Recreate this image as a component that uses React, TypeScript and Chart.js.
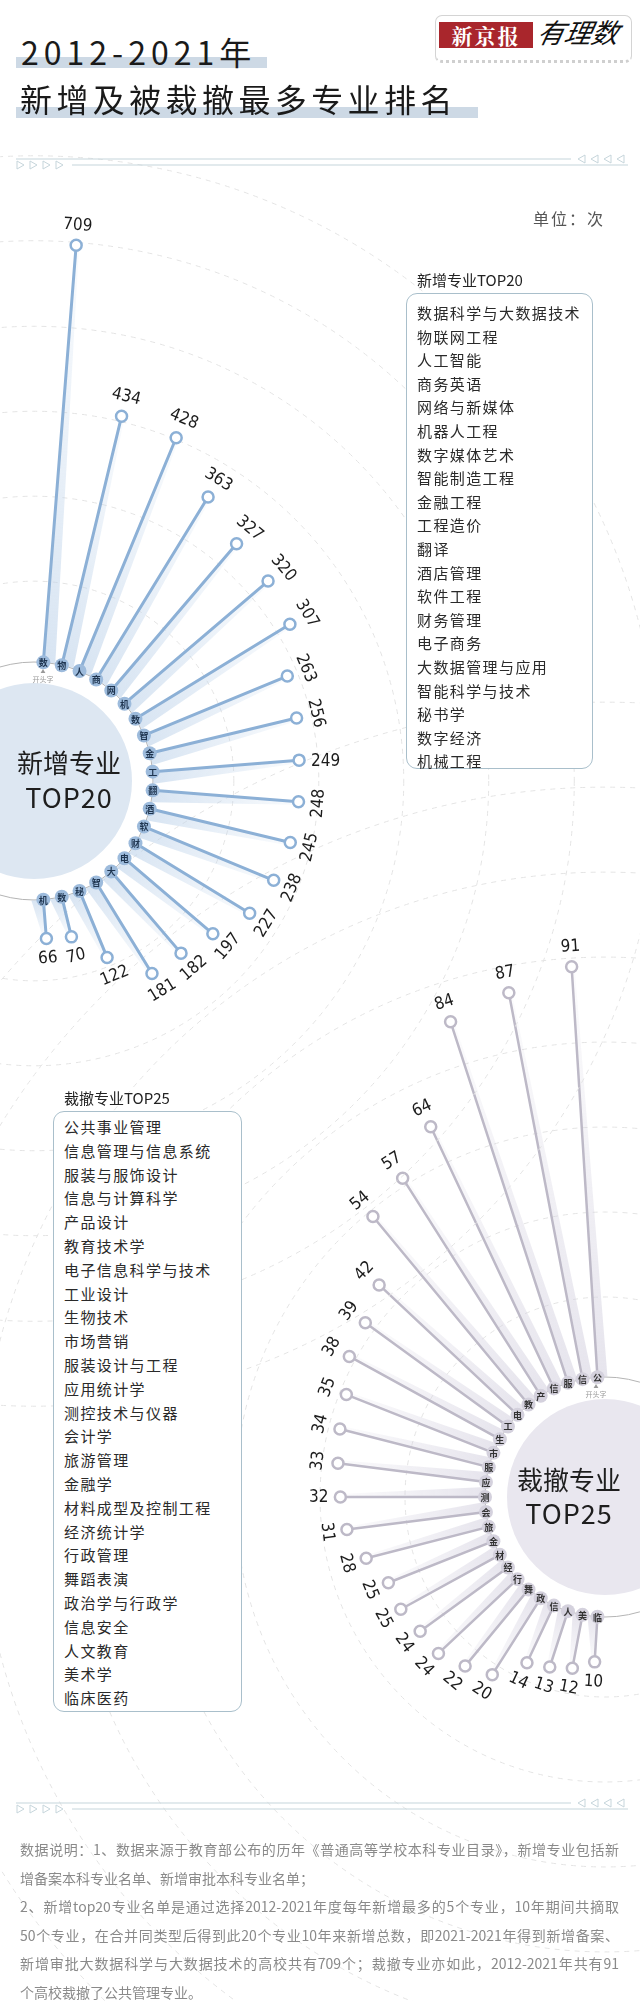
import React, { useEffect, useRef } from 'react';
import { Chart, registerables } from 'chart.js';

Chart.register(...registerables);

// ---------------- data ----------------
const ADDED_MAJORS = ['数据科学与大数据技术', '物联网工程', '人工智能', '商务英语', '网络与新媒体', '机器人工程', '数字媒体艺术', '智能制造工程', '金融工程', '工程造价', '翻译', '酒店管理', '软件工程', '财务管理', '电子商务', '大数据管理与应用', '智能科学与技术', '秘书学', '数字经济', '机械工程'];
const ADDED_COUNTS = [709, 434, 428, 363, 327, 320, 307, 263, 256, 249, 248, 245, 238, 227, 197, 182, 181, 122, 70, 66];

const CUT_MAJORS = ['公共事业管理', '信息管理与信息系统', '服装与服饰设计', '信息与计算科学', '产品设计', '教育技术学', '电子信息科学与技术', '工业设计', '生物技术', '市场营销', '服装设计与工程', '应用统计学', '测控技术与仪器', '会计学', '旅游管理', '金融学', '材料成型及控制工程', '经济统计学', '行政管理', '舞蹈表演', '政治学与行政学', '信息安全', '人文教育', '美术学', '临床医药'];
const CUT_COUNTS = [91, 87, 84, 64, 57, 54, 42, 39, 38, 35, 34, 33, 32, 31, 28, 25, 25, 24, 24, 22, 20, 14, 13, 12, 10];

const ADDED_GRID_TICKS = [137, 281, 425, 569, 714, 858];
const CUT_GRID_TICKS = [17.7, 36.5, 55.3, 74.1, 92.9, 111.7, 130.5, 149.3];

const TITLE_LINE_1 = '2012-2021年';
const TITLE_LINE_2 = '新增及被裁撤最多专业排名';
const UNIT_TEXT = '单位：次';
const ADDED_LIST_TITLE = '新增专业TOP20';
const CUT_LIST_TITLE = '裁撤专业TOP25';
const FOOTNOTE_LINES = [
  '数据说明：1、数据来源于教育部公布的历年《普通高等学校本科专业目录》，新增专业包括新',
  '增备案本科专业名单、新增审批本科专业名单；',
  '2、新增top20专业名单是通过选择2012-2021年度每年新增最多的5个专业，10年期间共摘取',
  '50个专业，在合并同类型后得到此20个专业10年来新增总数，即2021-2021年得到新增备案、',
  '新增审批大数据科学与大数据技术的高校共有709个；裁撤专业亦如此，2012-2021年共有91',
  '个高校裁撤了公共管理专业。',
];
const FOOTNOTE_FULL = [true, false, true, true, true, false];

// ---------------- chart building ----------------
const CJK = '"Noto Sans CJK SC", "Noto Sans", sans-serif';
const VALUE_FONT = '17px "Liberation Sans Narrow", "DejaVu Sans Condensed", Roboto, sans-serif';

interface RadialSpec {
  majors: string[];
  counts: number[];
  slots: number;
  startAngle: number;
  clockwise: boolean;
  baseRadius: number;
  pxPerUnit: number;
  drawRadius: number;
  gridTicks: number[];
  spoke: string;
  spokeWidth: number;
  bandStrong: string;
  bandWeak: string;
  bandWidth: number;
  chipFill: string;
  chipText: string;
  core: string;
  coreRadius: number;
}

function buildChart(canvas: HTMLCanvasElement, spec: RadialSpec) {
  const slotOf = (j: number) => (spec.clockwise ? j : (spec.slots - j) % spec.slots);
  const data: (number | null)[] = new Array(spec.slots).fill(null);
  const labels: string[] = new Array(spec.slots).fill('');
  spec.counts.forEach((v, j) => {
    data[slotOf(j)] = v;
    labels[slotOf(j)] = spec.majors[j];
  });
  const min = -spec.baseRadius / spec.pxPerUnit;
  const max = min + spec.drawRadius / spec.pxPerUnit;

  const plugin = {
    id: 'radialLollipop',
    beforeDatasetsDraw(chart: any) {
      const s = chart.scales.r;
      const ctx: CanvasRenderingContext2D = chart.ctx;
      const base = s.getDistanceFromCenterForValue(0);
      ctx.save();
      ctx.fillStyle = spec.core;
      ctx.beginPath();
      ctx.arc(s.xCenter, s.yCenter, spec.coreRadius, 0, Math.PI * 2);
      ctx.fill();
      ctx.strokeStyle = '#b4b4b4';
      ctx.lineWidth = 1;
      ctx.beginPath();
      ctx.arc(s.xCenter, s.yCenter, base, 0, Math.PI * 2);
      ctx.stroke();
      // soft bands
      spec.counts.forEach((v, j) => {
        const i = slotOf(j);
        const p0 = s.getPointPositionForValue(i, 0);
        const p1 = s.getPointPositionForValue(i, v);
        const nx = -Math.sin(p0.angle);
        const ny = Math.cos(p0.angle);
        const g = ctx.createLinearGradient(p0.x, p0.y, p1.x, p1.y);
        g.addColorStop(0, spec.bandStrong);
        g.addColorStop(1, spec.bandWeak);
        ctx.fillStyle = g;
        ctx.beginPath();
        ctx.moveTo(p0.x, p0.y);
        ctx.lineTo(p0.x + nx * spec.bandWidth, p0.y + ny * spec.bandWidth);
        ctx.lineTo(p1.x + nx * 3, p1.y + ny * 3);
        ctx.lineTo(p1.x, p1.y);
        ctx.closePath();
        ctx.fill();
      });
      // spokes
      ctx.strokeStyle = spec.spoke;
      ctx.lineWidth = spec.spokeWidth;
      ctx.lineCap = 'round';
      spec.counts.forEach((v, j) => {
        const i = slotOf(j);
        const p0 = s.getPointPositionForValue(i, 0);
        const p1 = s.getPointPositionForValue(i, v);
        ctx.beginPath();
        ctx.moveTo(p0.x, p0.y);
        ctx.lineTo(p1.x, p1.y);
        ctx.stroke();
      });
      // initial-character chips
      ctx.font = 'bold 9px ' + CJK;
      ctx.textAlign = 'center';
      ctx.textBaseline = 'middle';
      spec.counts.forEach((_v, j) => {
        const p0 = s.getPointPositionForValue(slotOf(j), 0);
        ctx.fillStyle = spec.chipFill;
        ctx.beginPath();
        ctx.arc(p0.x, p0.y, 7, 0, Math.PI * 2);
        ctx.fill();
        ctx.fillStyle = spec.chipText;
        ctx.fillText(spec.majors[j].charAt(0), p0.x, p0.y + 0.5);
      });
      ctx.restore();
    },
    afterDatasetsDraw(chart: any) {
      const s = chart.scales.r;
      const ctx: CanvasRenderingContext2D = chart.ctx;
      ctx.save();
      ctx.fillStyle = '#1c1c1c';
      ctx.font = VALUE_FONT;
      ctx.textBaseline = 'middle';
      spec.counts.forEach((v, j) => {
        const p = s.getPointPositionForValue(slotOf(j), v);
        const c = Math.cos(p.angle);
        const sn = Math.sin(p.angle);
        if (sn > -0.1 && sn < 0.001) {
          ctx.textAlign = c > 0 ? 'left' : 'right';
          ctx.fillText(String(v), p.x + c * 12, p.y + 1);
          return;
        }
        let rot = p.angle + Math.PI / 2;
        rot = Math.atan2(Math.sin(rot), Math.cos(rot));
        if (rot > Math.PI / 2) rot -= Math.PI;
        else if (rot < -Math.PI / 2) rot += Math.PI;
        ctx.save();
        ctx.translate(p.x + c * 20, p.y + sn * 20);
        ctx.rotate(rot);
        ctx.textAlign = 'center';
        ctx.fillText(String(v), 0, 0);
        ctx.restore();
      });
      ctx.restore();
    },
  };

  return new Chart(canvas, {
    type: 'radar',
    data: {
      labels,
      datasets: [
        {
          data,
          showLine: false,
          fill: false,
          borderWidth: 0,
          pointRadius: 5.5,
          pointHoverRadius: 5.5,
          pointBorderWidth: 2.5,
          pointBackgroundColor: '#ffffff',
          pointBorderColor: spec.spoke,
        } as any,
      ],
    },
    options: {
      responsive: false,
      animation: false,
      devicePixelRatio: 1,
      events: [],
      layout: { padding: 0 },
      plugins: { legend: { display: false }, tooltip: { enabled: false } },
      scales: {
        r: {
          min,
          max,
          startAngle: spec.startAngle,
          afterBuildTicks: (scale: any) => {
            scale.ticks = spec.gridTicks.map((value) => ({ value }));
          },
          ticks: { display: false },
          pointLabels: { display: false },
          angleLines: { display: false },
          grid: { circular: true, color: '#e4e4e4', lineWidth: 1 },
          border: { dash: [5, 5] },
        } as any,
      },
    },
    plugins: [plugin as any],
  });
}

const ADDED_SPEC: RadialSpec = {
  majors: ADDED_MAJORS,
  counts: ADDED_COUNTS,
  slots: 40,
  startAngle: 4.5,
  clockwise: true,
  baseRadius: 119,
  pxPerUnit: 0.59,
  drawRadius: 700,
  gridTicks: ADDED_GRID_TICKS,
  spoke: '#8cb0d6',
  spokeWidth: 3,
  bandStrong: 'rgba(190,211,234,0.6)',
  bandWeak: 'rgba(190,211,234,0.08)',
  bandWidth: 12,
  chipFill: '#9dbbdc',
  chipText: '#1f3550',
  core: '#dde7f2',
  coreRadius: 98,
};

const CUT_SPEC: RadialSpec = {
  majors: CUT_MAJORS,
  counts: CUT_COUNTS,
  slots: 50,
  startAngle: 356.4,
  clockwise: false,
  baseRadius: 120,
  pxPerUnit: 4.52,
  drawRadius: 800,
  gridTicks: CUT_GRID_TICKS,
  spoke: '#bdb9c7',
  spokeWidth: 2.5,
  bandStrong: 'rgba(214,211,225,0.6)',
  bandWeak: 'rgba(214,211,225,0.08)',
  bandWidth: 10,
  chipFill: '#d4d1dd',
  chipText: '#333333',
  core: '#e9e7ef',
  coreRadius: 98,
};

function RadialChart({ spec, left, top, size, z }: { spec: RadialSpec; left: number; top: number; size: number; z: number }) {
  const ref = useRef<HTMLCanvasElement>(null);
  useEffect(() => {
    const chart = buildChart(ref.current as HTMLCanvasElement, spec);
    return () => chart.destroy();
  }, [spec]);
  return (
    <canvas
      ref={ref}
      width={size}
      height={size}
      style={{ position: 'absolute', left, top, width: size, height: size, zIndex: z }}
    />
  );
}

// ---------------- decorations ----------------
function Divider({ y }: { y: number }) {
  const col = '#c6d5db';
  const tri = (x: number, yy: number, dir: number, k: number) => {
    const pts = dir < 0
      ? `${x + 7},${yy - 4} ${x},${yy} ${x + 7},${yy + 4}`
      : `${x},${yy - 4} ${x + 7},${yy} ${x},${yy + 4}`;
    return <polygon key={`${dir}-${k}`} points={pts} fill="none" stroke={col} strokeWidth={1} />;
  };
  return (
    <svg width={640} height={20} style={{ position: 'absolute', left: 0, top: y - 8, zIndex: 5 }}>
      <line x1={16} y1={8} x2={571} y2={8} stroke={col} strokeWidth={1.2} />
      {[0, 1, 2, 3].map((k) => tri(578 + k * 13, 8, -1, k))}
      <line x1={72} y1={14} x2={628} y2={14} stroke={col} strokeWidth={1.2} />
      {[0, 1, 2, 3].map((k) => tri(17 + k * 13, 14, 1, k))}
    </svg>
  );
}

const abs = (s: React.CSSProperties): React.CSSProperties => ({ position: 'absolute', whiteSpace: 'nowrap', ...s });

function MajorList({ title, items, left, top, width, height, titleTop, padTop, pitch }: {
  title: string; items: string[]; left: number; top: number; width: number; height: number; titleTop: number; padTop: number; pitch: number;
}) {
  return (
    <>
      <div style={abs({ left: left + 11, top: titleTop, fontSize: 15, lineHeight: '20px', color: '#222', fontFamily: CJK, zIndex: 6 })}>{title}</div>
      <div
        style={abs({
          left, top, width, height, boxSizing: 'border-box', border: '1.3px solid #a9bfcb', borderRadius: 11,
          background: '#fff', zIndex: 6, paddingTop: padTop, paddingLeft: 10,
        })}
      >
        {items.map((t, k) => (
          <div key={k} style={{ fontSize: 15, lineHeight: `${pitch}px`, height: pitch, color: '#2a2a2a', fontFamily: CJK, letterSpacing: 1.4 }}>
            {t}
          </div>
        ))}
      </div>
    </>
  );
}

export default function App() {
  return (
    <div style={{ position: 'absolute', left: 0, top: 0, width: 640, height: 2001, overflow: 'hidden', background: '#fff', fontFamily: CJK }}>
      {/* title */}
      <div style={abs({ left: 16, top: 57, width: 251, height: 11, background: '#cdd9e5', zIndex: 5 })} />
      <div style={abs({ left: 16, top: 107, width: 462, height: 11, background: '#cdd9e5', zIndex: 5 })} />
      <div style={abs({ left: 21, top: 30, fontSize: 32, lineHeight: '42px', letterSpacing: 5, color: '#1a1a1a', zIndex: 6, fontWeight: 400 })}>{TITLE_LINE_1}</div>
      <div style={abs({ left: 20, top: 77, fontSize: 32, lineHeight: '42px', letterSpacing: 4.4, color: '#1a1a1a', zIndex: 6, fontWeight: 400 })}>{TITLE_LINE_2}</div>

      {/* logo */}
      <div style={abs({ left: 435, top: 15, width: 197, height: 48, boxSizing: 'border-box', border: '1.5px solid #d4d4d4', borderBottom: '3px dotted #cfcfcf', borderRadius: 7, zIndex: 6 })} />
      <div style={abs({ left: 439, top: 22, width: 94, height: 26, background: '#a9262c', color: '#fff', fontSize: 21, lineHeight: '26px', fontWeight: 700, textAlign: 'center', letterSpacing: 2, zIndex: 7, fontFamily: '"Noto Serif CJK SC", ' + CJK })}>新京报</div>
      <div style={abs({ left: 538, top: 15, fontSize: 27, lineHeight: '34px', fontStyle: 'italic', color: '#111', zIndex: 7, transform: 'skewX(-12deg)' })}>有理数</div>

      <Divider y={159} />

      <div style={abs({ left: 533, top: 208, fontSize: 16, lineHeight: '20px', color: '#555', letterSpacing: 2, zIndex: 6 })}>{UNIT_TEXT}</div>

      {/* charts */}
      <RadialChart spec={CUT_SPEC} left={605 - 800} top={1497 - 800} size={1600} z={1} />
      <RadialChart spec={ADDED_SPEC} left={34 - 700} top={781 - 700} size={1400} z={2} />

      {/* core labels */}
      <div style={abs({ left: 8, top: 746, width: 122, textAlign: 'center', fontSize: 26, lineHeight: '32px', color: '#1e1e1e', zIndex: 4 })}>新增专业</div>
      <div style={abs({ left: 8, top: 781, width: 122, textAlign: 'center', fontSize: 27, lineHeight: '32px', color: '#1e1e1e', zIndex: 4, letterSpacing: 1 })}>TOP20</div>
      <div style={abs({ left: 508, top: 1463, width: 122, textAlign: 'center', fontSize: 26, lineHeight: '32px', color: '#1e1e1e', zIndex: 4 })}>裁撤专业</div>
      <div style={abs({ left: 508, top: 1497, width: 122, textAlign: 'center', fontSize: 27, lineHeight: '32px', color: '#1e1e1e', zIndex: 4, letterSpacing: 1 })}>TOP25</div>

      {/* start markers */}
      <div style={abs({ left: 28, top: 668, width: 30, textAlign: 'center', fontSize: 5, lineHeight: '6px', color: '#999', zIndex: 4 })}>▲</div>
      <div style={abs({ left: 25, top: 674, width: 36, textAlign: 'center', fontSize: 7, lineHeight: '10px', color: '#9a9a9a', zIndex: 4 })}>开头字</div>
      <div style={abs({ left: 581, top: 1383, width: 30, textAlign: 'center', fontSize: 5, lineHeight: '6px', color: '#999', zIndex: 4 })}>▲</div>
      <div style={abs({ left: 578, top: 1389, width: 36, textAlign: 'center', fontSize: 7, lineHeight: '10px', color: '#9a9a9a', zIndex: 4 })}>开头字</div>

      {/* lists */}
      <MajorList title={ADDED_LIST_TITLE} items={ADDED_MAJORS} left={406} top={293} width={187} height={476} titleTop={270} padTop={7} pitch={23.6} />
      <MajorList title={CUT_LIST_TITLE} items={CUT_MAJORS} left={53} top={1111} width={189} height={601} titleTop={1088} padTop={3} pitch={23.8} />

      <Divider y={1803} />

      {/* footnote */}
      {FOOTNOTE_LINES.map((t, k) => (
        <div
          key={k}
          style={abs({
            left: 20, top: 1838 + k * 28.6, width: FOOTNOTE_FULL[k] ? 599 : undefined, fontSize: 14, lineHeight: '22px',
            color: '#8a8a8a', zIndex: 6, textAlign: 'justify', textAlignLast: FOOTNOTE_FULL[k] ? 'justify' : 'left',
          } as React.CSSProperties)}
        >
          {t}
        </div>
      ))}
    </div>
  );
}
